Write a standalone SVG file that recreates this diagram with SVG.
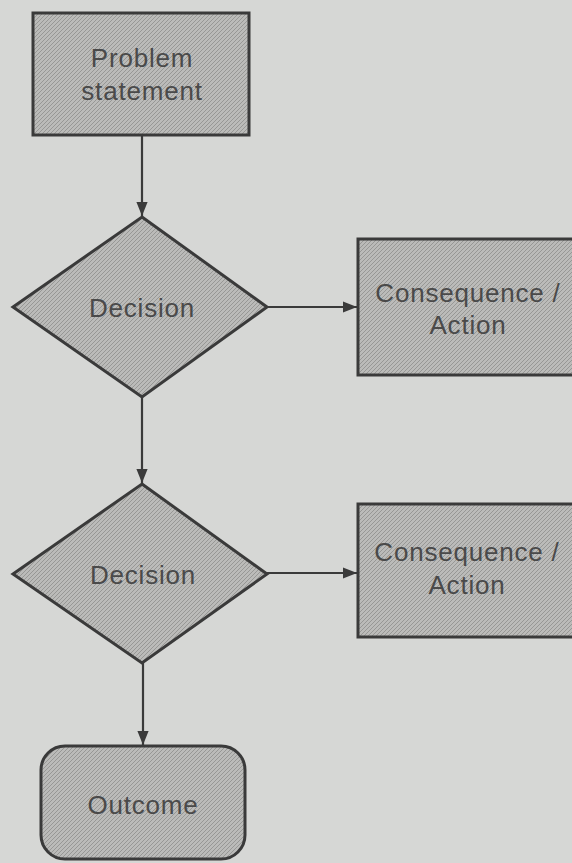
<svg xmlns="http://www.w3.org/2000/svg" width="572" height="863" viewBox="0 0 572 863">
<defs>
<pattern id="hatch" patternUnits="userSpaceOnUse" width="4" height="4">
<rect width="4" height="4" fill="#bbbbb9"/>
<path d="M-1,5 L5,-1 M-1,1 L1,-1 M3,5 L5,3" stroke="#939391" stroke-width="0.9"/>
</pattern>
<marker id="arr" viewBox="0 0 10 10" refX="10" refY="5" markerWidth="14" markerHeight="14" markerUnits="userSpaceOnUse" orient="auto">
<path d="M0,1 L10,5 L0,9 Z" fill="#3a3a3a"/>
</marker>
<style>
.shape{fill:url(#hatch);stroke:#3a3a3a;stroke-width:3}
.lbl{font-family:"Liberation Sans",Arial,sans-serif;font-size:26px;letter-spacing:0.8px;fill:#4a4a4a;text-anchor:middle}
.conn{stroke:#3a3a3a;stroke-width:2.2;fill:none;marker-end:url(#arr)}
</style>
</defs>
<rect width="572" height="863" fill="#d6d7d5"/>
<g id="problem">
<rect class="shape" x="33" y="13" width="216" height="122"/>
<text class="lbl" x="142" y="67">Problem</text>
<text class="lbl" x="142" y="100">statement</text>
</g>
<g id="decision1">
<polygon class="shape" points="142,217 267,307 142,397 13,307"/>
<text class="lbl" x="142" y="317">Decision</text>
</g>
<g id="action1">
<rect class="shape" x="358" y="239" width="225" height="136"/>
<text class="lbl" x="468" y="302">Consequence /</text>
<text class="lbl" x="468" y="334">Action</text>
</g>
<g id="decision2">
<polygon class="shape" points="142,484 267,574 142,663 13,574"/>
<text class="lbl" x="143" y="584">Decision</text>
</g>
<g id="action2">
<rect class="shape" x="358" y="504" width="225" height="133"/>
<text class="lbl" x="467" y="561">Consequence /</text>
<text class="lbl" x="467" y="594">Action</text>
</g>
<g id="outcome">
<rect class="shape" x="41" y="746" width="204" height="113" rx="24" ry="24"/>
<text class="lbl" x="143" y="814">Outcome</text>
</g>
<g id="connectors">
<line class="conn" x1="142" y1="135" x2="142" y2="216"/>
<line class="conn" x1="267" y1="307" x2="357" y2="307"/>
<line class="conn" x1="142" y1="397" x2="142" y2="483"/>
<line class="conn" x1="267" y1="573" x2="357" y2="573"/>
<line class="conn" x1="143" y1="663" x2="143" y2="745"/>
</g>
</svg>
